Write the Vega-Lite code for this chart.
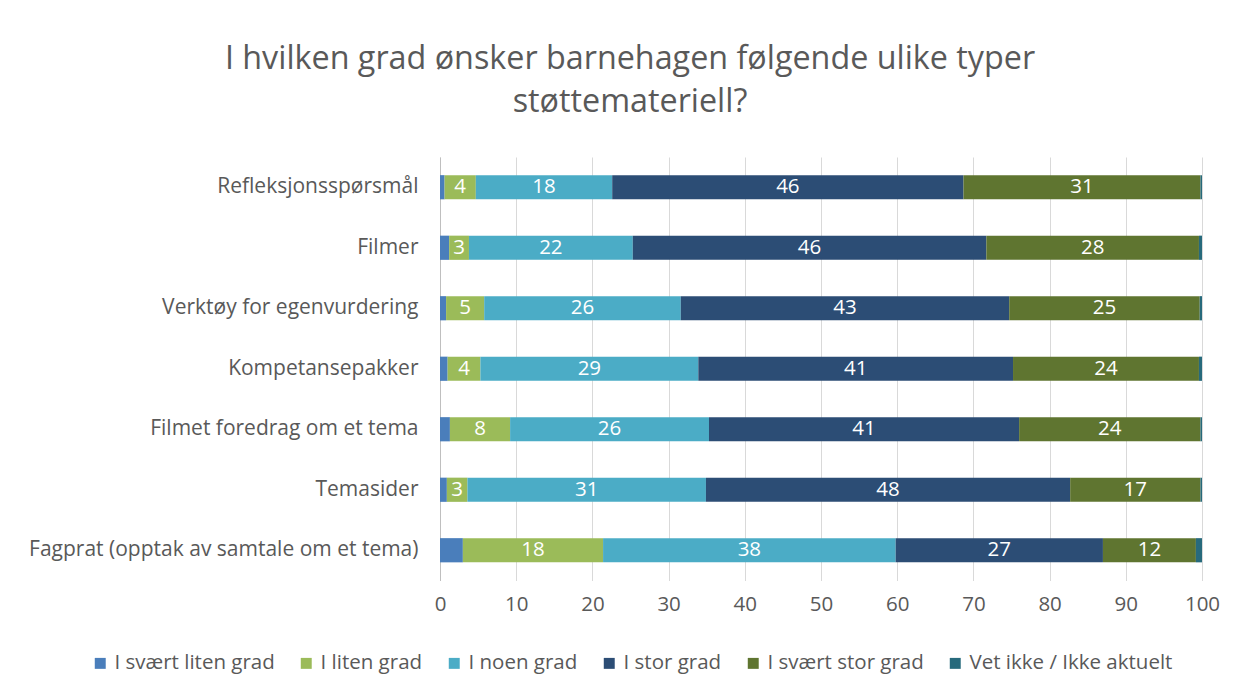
{
  "$schema": "https://vega.github.io/schema/vega-lite/v6.json",
  "width": 762,
  "height": 423.5,
  "autosize": "none",
  "padding": {"left": 440, "top": 157, "right": 34, "bottom": 114.5},
  "background": "white",
  "title": {
    "text": ["I hvilken grad ønsker barnehagen følgende ulike typer", "støttemateriell?"],
    "anchor": "middle",
    "dx": -191,
    "offset": 39,
    "font": "Open Sans",
    "fontSize": 32.3,
    "fontWeight": "normal",
    "color": "#595959",
    "lineHeight": 43
  },
  "data": {
    "values": [
      {"t": "Refleksjonsspørsmål", "kat": "I svært liten grad", "v": 0.6},
      {"t": "Refleksjonsspørsmål", "kat": "I liten grad", "v": 4.1},
      {"t": "Refleksjonsspørsmål", "kat": "I noen grad", "v": 17.9},
      {"t": "Refleksjonsspørsmål", "kat": "I stor grad", "v": 46.1},
      {"t": "Refleksjonsspørsmål", "kat": "I svært stor grad", "v": 31.1},
      {"t": "Refleksjonsspørsmål", "kat": "Vet ikke / Ikke aktuelt", "v": 0.2},
      {"t": "Filmer", "kat": "I svært liten grad", "v": 1.2},
      {"t": "Filmer", "kat": "I liten grad", "v": 2.6},
      {"t": "Filmer", "kat": "I noen grad", "v": 21.5},
      {"t": "Filmer", "kat": "I stor grad", "v": 46.4},
      {"t": "Filmer", "kat": "I svært stor grad", "v": 27.9},
      {"t": "Filmer", "kat": "Vet ikke / Ikke aktuelt", "v": 0.4},
      {"t": "Verktøy for egenvurdering", "kat": "I svært liten grad", "v": 0.8},
      {"t": "Verktøy for egenvurdering", "kat": "I liten grad", "v": 5.0},
      {"t": "Verktøy for egenvurdering", "kat": "I noen grad", "v": 25.8},
      {"t": "Verktøy for egenvurdering", "kat": "I stor grad", "v": 43.1},
      {"t": "Verktøy for egenvurdering", "kat": "I svært stor grad", "v": 25.0},
      {"t": "Verktøy for egenvurdering", "kat": "Vet ikke / Ikke aktuelt", "v": 0.3},
      {"t": "Kompetansepakker\u00a0", "kat": "I svært liten grad", "v": 1.0},
      {"t": "Kompetansepakker\u00a0", "kat": "I liten grad", "v": 4.3},
      {"t": "Kompetansepakker\u00a0", "kat": "I noen grad", "v": 28.6},
      {"t": "Kompetansepakker\u00a0", "kat": "I stor grad", "v": 41.3},
      {"t": "Kompetansepakker\u00a0", "kat": "I svært stor grad", "v": 24.4},
      {"t": "Kompetansepakker\u00a0", "kat": "Vet ikke / Ikke aktuelt", "v": 0.4},
      {"t": "Filmet foredrag om et tema", "kat": "I svært liten grad", "v": 1.3},
      {"t": "Filmet foredrag om et tema", "kat": "I liten grad", "v": 7.9},
      {"t": "Filmet foredrag om et tema", "kat": "I noen grad", "v": 26.1},
      {"t": "Filmet foredrag om et tema", "kat": "I stor grad", "v": 40.7},
      {"t": "Filmet foredrag om et tema", "kat": "I svært stor grad", "v": 23.8},
      {"t": "Filmet foredrag om et tema", "kat": "Vet ikke / Ikke aktuelt", "v": 0.2},
      {"t": "Temasider", "kat": "I svært liten grad", "v": 0.9},
      {"t": "Temasider", "kat": "I liten grad", "v": 2.7},
      {"t": "Temasider", "kat": "I noen grad", "v": 31.3},
      {"t": "Temasider", "kat": "I stor grad", "v": 47.8},
      {"t": "Temasider", "kat": "I svært stor grad", "v": 17.1},
      {"t": "Temasider", "kat": "Vet ikke / Ikke aktuelt", "v": 0.2},
      {"t": "Fagprat (opptak av samtale om et tema)", "kat": "I svært liten grad", "v": 3.0},
      {"t": "Fagprat (opptak av samtale om et tema)", "kat": "I liten grad", "v": 18.4},
      {"t": "Fagprat (opptak av samtale om et tema)", "kat": "I noen grad", "v": 38.4},
      {"t": "Fagprat (opptak av samtale om et tema)", "kat": "I stor grad", "v": 27.2},
      {"t": "Fagprat (opptak av samtale om et tema)", "kat": "I svært stor grad", "v": 12.2},
      {"t": "Fagprat (opptak av samtale om et tema)", "kat": "Vet ikke / Ikke aktuelt", "v": 0.8}
    ]
  },
  "transform": [
    {"calculate": "indexof(['I svært liten grad','I liten grad','I noen grad','I stor grad','I svært stor grad','Vet ikke / Ikke aktuelt'], datum.kat)", "as": "ord"},
    {"stack": "v", "groupby": ["t"], "sort": [{"field": "ord", "order": "ascending"}], "as": ["x0", "x1"]},
    {"calculate": "(datum.x0 + datum.x1) / 2", "as": "xm"}
  ],
  "encoding": {
    "y": {
      "field": "t",
      "type": "nominal",
      "sort": null,
      "scale": {"paddingInner": 0.6, "paddingOuter": 0.3},
      "axis": {
        "title": null,
        "ticks": false,
        "domain": true,
        "domainColor": "#bfbfbf",
        "labelFont": "Open Sans",
        "labelFontSize": 21,
        "labelColor": "#595959",
        "labelPadding": 22,
        "labelLimit": 500
      }
    }
  },
  "layer": [
    {
      "mark": {"type": "bar"},
      "encoding": {
        "x": {
          "field": "x0",
          "type": "quantitative",
          "scale": {"domain": [0, 100], "nice": false},
          "axis": {
            "title": null,
            "values": [0, 10, 20, 30, 40, 50, 60, 70, 80, 90, 100],
            "grid": true,
            "gridColor": "#d9d9d9",
            "domain": false,
            "ticks": false,
            "labelFont": "Open Sans",
            "labelFontSize": 20.5,
            "labelColor": "#595959",
            "labelPadding": 14,
            "labelFlush": false
          }
        },
        "x2": {"field": "x1"},
        "color": {
          "field": "kat",
          "type": "nominal",
          "scale": {
            "domain": ["I svært liten grad", "I liten grad", "I noen grad", "I stor grad", "I svært stor grad", "Vet ikke / Ikke aktuelt"],
            "range": ["#4a7ebb", "#9bbb59", "#4bacc6", "#2c4d75", "#5f7530", "#276a7c"]
          },
          "legend": {
            "title": null,
            "orient": "none",
            "direction": "horizontal",
            "legendX": -350,
            "legendY": 496,
            "symbolType": "square",
            "symbolSize": 120,
            "symbolStrokeWidth": 0,
            "labelFont": "Open Sans",
            "labelFontSize": 20.5,
            "labelColor": "#595959",
            "labelOffset": 4,
            "columnPadding": 21,
            "labelLimit": 400
          }
        }
      }
    },
    {
      "transform": [{"filter": "datum.ord >= 1 && datum.ord <= 4"}],
      "mark": {"type": "text", "color": "white", "font": "Open Sans", "fontSize": 20.5, "baseline": "middle"},
      "encoding": {
        "x": {"field": "xm", "type": "quantitative"},
        "text": {"field": "v", "type": "quantitative", "format": ".0f"}
      }
    }
  ],
  "config": {
    "view": {"stroke": null}
  }
}
